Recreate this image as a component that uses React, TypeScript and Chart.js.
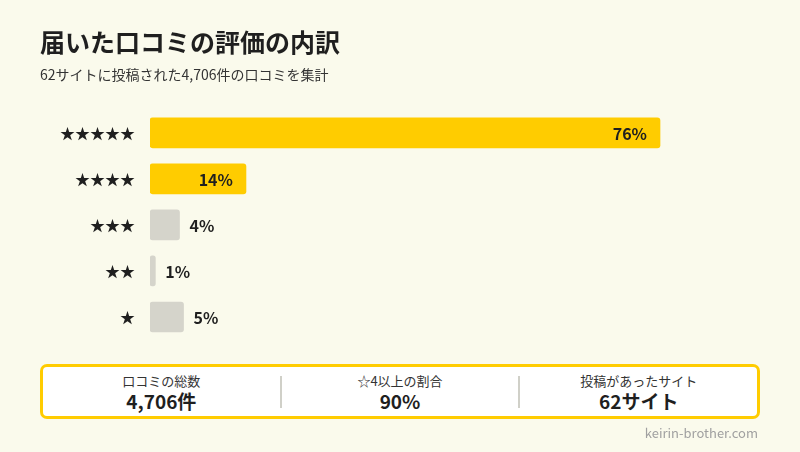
import React, { useEffect, useRef } from "react";
import { Chart, registerables } from "chart.js";

Chart.register(...registerables);

const categories = ["★★★★★", "★★★★", "★★★", "★★", "★"];
const values = [76.0, 14.3, 4.4, 0.8, 5.0];
const valueLabels = ["76%", "14%", "4%", "1%", "5%"];
const barColors = ["#FFCC00", "#FFCC00", "#D5D4CB", "#D5D4CB", "#D5D4CB"];

const statLabels = ["口コミの総数", "☆4以上の割合", "投稿があったサイト"];
const statValues = ["4,706件", "90%", "62サイト"];

const FONT = '"Noto Sans CJK JP", "Noto Sans", sans-serif';
const BG = "#FAFAEC";

export default function App() {
  const ref = useRef<HTMLCanvasElement | null>(null);

  useEffect(() => {
    document.body.style.margin = "0";
    const valuePlugin = {
      id: "valueLabels",
      afterDatasetsDraw(chart: any) {
        const ctx = chart.ctx;
        const meta = chart.getDatasetMeta(0);
        ctx.save();
        ctx.font = `bold 16px ${FONT}`;
        ctx.fillStyle = "#1f1f1f";
        ctx.textBaseline = "middle";
        meta.data.forEach((bar: any, i: number) => {
          const w = bar.x - bar.base;
          if (w > 60) {
            ctx.textAlign = "right";
            ctx.fillText(valueLabels[i], bar.x - 13, bar.y + 1);
          } else {
            ctx.textAlign = "left";
            ctx.fillText(valueLabels[i], bar.x + 10, bar.y + 1);
          }
        });
        ctx.restore();
      },
    };
    const chart = new Chart(ref.current as HTMLCanvasElement, {
      type: "bar",
      data: {
        labels: categories,
        datasets: [
          {
            data: values,
            backgroundColor: barColors,
            borderRadius: 3,
            borderSkipped: false,
            barThickness: 30,
          },
        ],
      },
      options: {
        indexAxis: "y",
        animation: false,
        responsive: false,
        layout: { padding: { left: 40, right: 38, top: 20, bottom: 112 } },
        plugins: {
          legend: { display: false },
          tooltip: { enabled: false },
          title: {
            display: true,
            text: "届いた口コミの評価の内訳",
            align: "start",
            color: "#1f1f1f",
            font: { family: FONT, size: 25, weight: "bold", lineHeight: 1.2 },
            padding: { top: 7, bottom: 0 },
          },
          subtitle: {
            display: true,
            text: "62サイトに投稿された4,706件の口コミを集計",
            align: "start",
            color: "#333333",
            font: { family: FONT, size: 14, lineHeight: 1.2 },
            padding: { top: 9, bottom: 27 },
          },
        },
        scales: {
          x: {
            display: false,
            min: 0,
            max: Math.max(...values) * 1.2,
          },
          y: {
            grid: { display: false, drawTicks: false },
            border: { display: false },
            ticks: {
              color: "#1f1f1f",
              padding: 15,
              font: { family: FONT, size: 15 },
            },
            afterFit(scale: any) {
              scale.width = 110;
            },
          },
        },
      },
      plugins: [valuePlugin],
    });
    return () => chart.destroy();
  }, []);

  return (
    <div
      style={{
        position: "relative",
        width: 800,
        height: 452,
        background: BG,
        overflow: "hidden",
        fontFamily: FONT,
      }}
    >
      <canvas ref={ref} width={800} height={452} style={{ position: "absolute", left: 0, top: 0 }} />
      <div
        style={{
          position: "absolute",
          left: 40,
          top: 364,
          width: 720,
          height: 55,
          boxSizing: "border-box",
          border: "3px solid #FFCC00",
          borderRadius: 7,
          background: "#FFFFFF",
          display: "flex",
          alignItems: "center",
        }}
      >
        {statLabels.map((lab, i) => (
          <React.Fragment key={i}>
            {i > 0 && (
              <div style={{ width: 2, height: 32, background: "#D0D0C8" }} />
            )}
            <div style={{ flex: 1, textAlign: "center", color: "#1f1f1f" }}>
              <div style={{ fontSize: 13, lineHeight: "18px", color: "#333" }}>{lab}</div>
              <div style={{ fontSize: 19, lineHeight: "22px", fontWeight: "bold" }}>{statValues[i]}</div>
            </div>
          </React.Fragment>
        ))}
      </div>
      <div
        style={{
          position: "absolute",
          right: 42,
          top: 424,
          fontSize: 13,
          lineHeight: "18px",
          color: "#A0A0A0",
        }}
      >
        keirin-brother.com
      </div>
    </div>
  );
}
